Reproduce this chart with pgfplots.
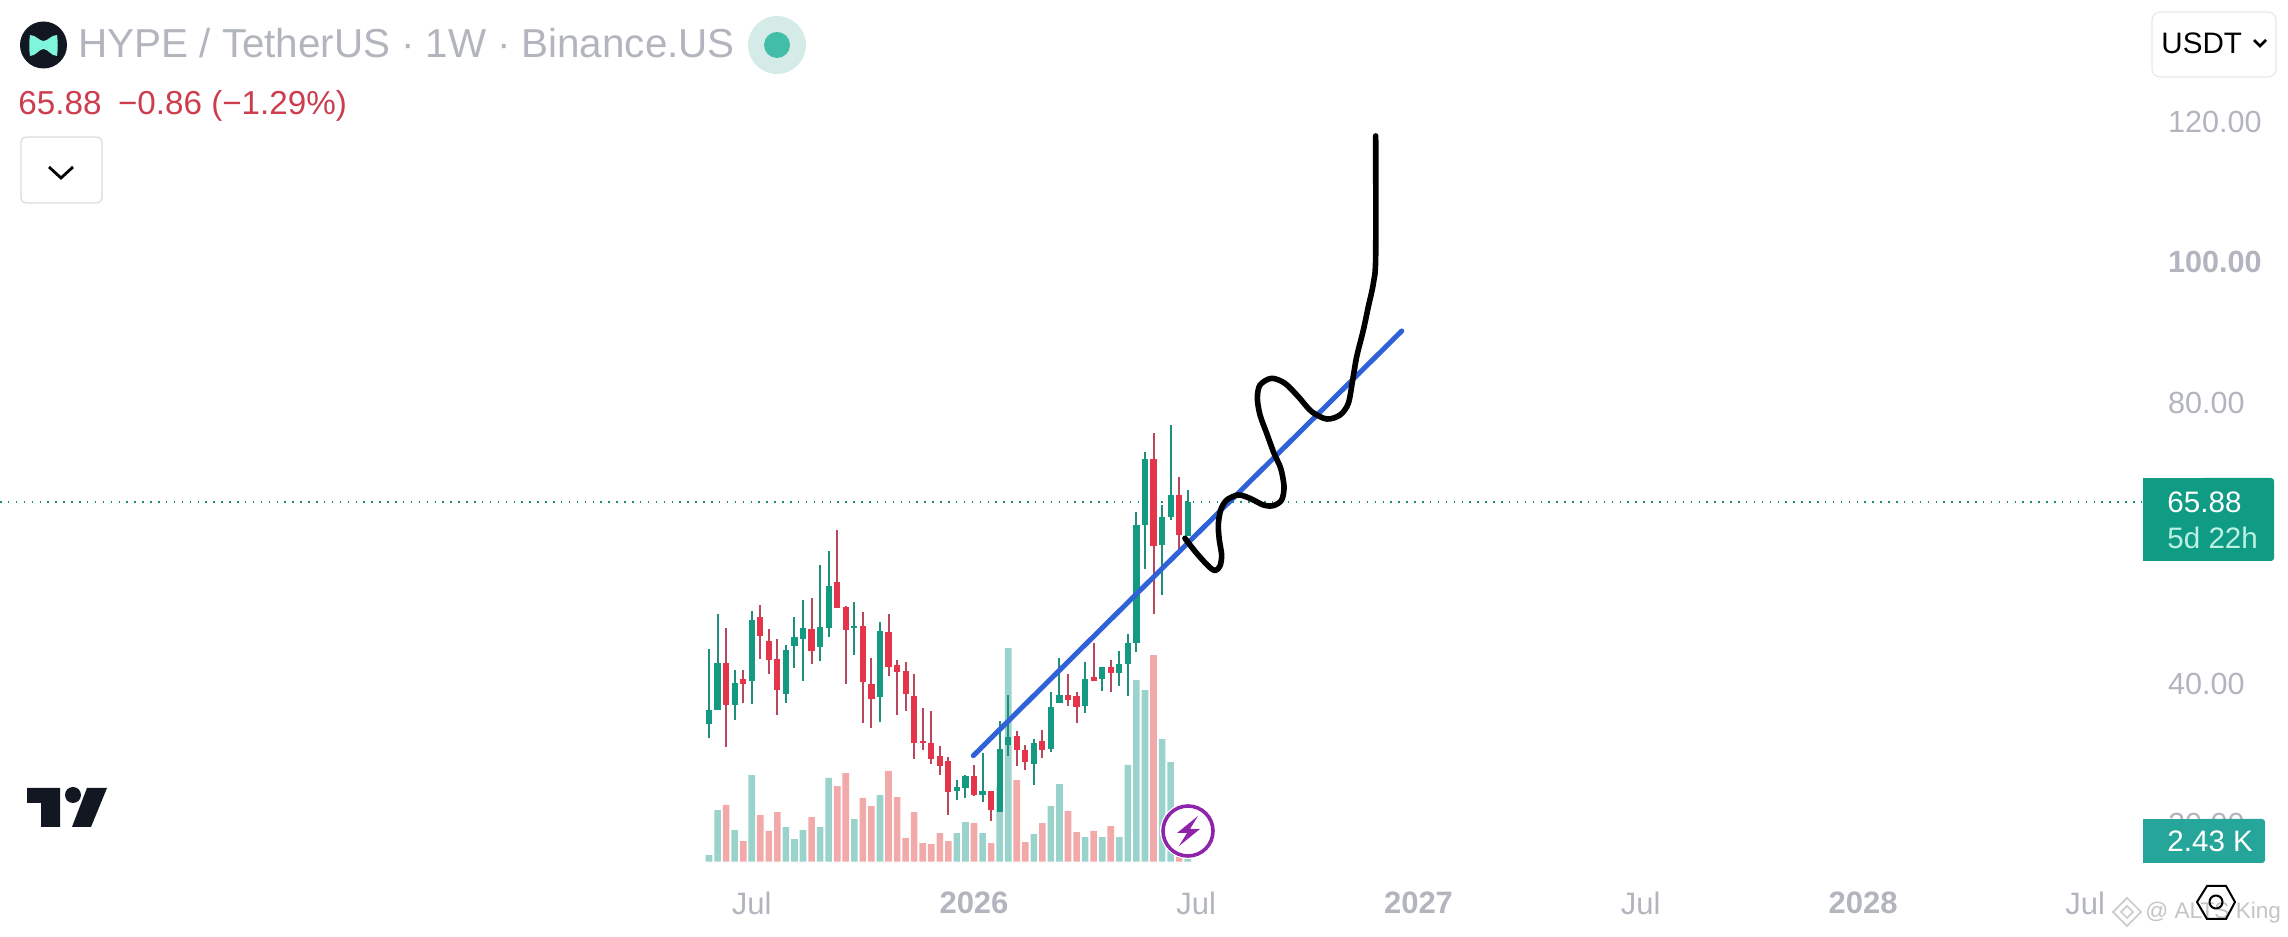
\documentclass[border=0pt]{standalone}
\usepackage{fontspec}
\setmainfont{Liberation Sans}
\usepackage{pgfplots}
\usepackage{pgfplotstable}
\pgfplotsset{compat=1.18}
\definecolor{tvgrey}{HTML}{B2B5BE}
\definecolor{gbody}{HTML}{149A80}
\definecolor{gwick}{HTML}{1F8F7C}
\definecolor{rbody}{HTML}{E5354B}
\definecolor{rwick}{HTML}{B8485C}
\definecolor{gvol}{HTML}{9AD3CC}
\definecolor{rvol}{HTML}{F2A9A9}
\definecolor{trend}{HTML}{2F62D9}
\definecolor{pillg}{HTML}{0F9B84}
\definecolor{pillv}{HTML}{26A69A}
\definecolor{purp}{HTML}{8E24AA}
\definecolor{mint}{HTML}{7FF5DC}
\definecolor{pricered}{HTML}{CC3D4E}
\definecolor{tvdark}{HTML}{131722}
\definecolor{statout}{HTML}{D5EBE8}
\definecolor{statin}{HTML}{42BDA8}
\definecolor{btnone}{HTML}{DADADA}
\definecolor{btntwo}{HTML}{E8E8E8}
\definecolor{txtmint}{HTML}{B9F2E2}
\definecolor{wmtext}{HTML}{C4C4C4}
\definecolor{wmlogo}{HTML}{D0D0D0}
% i hi top bot lo
\pgfplotstableread{
i hi top bot lo
0 44.87 36.18 34.19 32.29
1 49.86 42.88 36.28 36.28
3 41.88 40.08 36.94 34.85
5 50.28 49.00 40.36 37.13
9 45.44 44.78 38.46 37.27
10 49.43 46.63 45.35 42.26
11 51.85 47.91 46.39 40.41
13 56.84 48.01 45.25 43.26
14 58.83 53.85 47.96 46.68
17 51.57 48.20 47.91 44.11
20 48.72 47.48 38.13 34.57
29 26.33 25.24 24.76 23.43
30 27.04 26.81 25.14 23.72
32 30.13 24.67 24.19 23.15
34 34.74 30.75 21.73 21.73
35 38.44 32.36 31.22 29.65
38 32.17 31.51 28.56 25.57
40 38.77 36.73 30.70 30.22
41 43.71 38.34 37.25 37.25
44 43.14 40.72 36.78 35.83
46 42.43 42.43 40.67 38.91
48 44.71 42.85 41.52 39.62
49 47.13 45.84 42.81 38.20
50 64.50 62.65 45.80 44.52
51 73.05 72.05 62.60 56.34
53 65.50 63.79 59.71 52.68
54 76.80 66.93 63.74 63.32
56 67.64 65.88 61.09 61.09
}\gcandles
\pgfplotstableread{
i hi top bot lo
2 47.91 42.88 36.94 31.01
4 41.93 40.65 39.98 37.27
6 51.14 49.43 46.82 43.54
7 47.72 46.06 43.40 41.36
8 46.30 43.49 39.13 35.57
12 52.18 47.72 44.68 42.73
15 61.87 54.46 50.81 50.81
16 51.00 50.90 47.67 39.93
18 50.14 48.15 40.22 34.43
19 43.59 39.93 37.84 33.67
21 49.86 47.34 42.40 41.07
22 43.40 42.64 41.64 35.57
23 43.02 41.74 38.46 36.14
24 41.41 38.22 31.58 29.30
25 36.47 31.86 31.58 30.58
26 36.04 31.48 29.30 28.59
27 31.06 29.63 28.30 27.02
28 29.49 28.92 24.60 21.32
31 28.37 26.81 24.19 23.96
33 24.67 24.67 21.96 20.40
36 33.31 32.50 30.51 28.23
37 31.32 30.60 28.80 27.66
39 33.45 31.79 30.51 29.37
42 41.43 38.34 37.68 36.78
43 38.77 38.20 36.68 34.40
45 45.75 40.91 40.43 40.43
47 43.42 42.33 41.52 38.77
52 75.66 72.05 59.61 49.93
55 69.49 66.93 61.23 58.85
}\rcandles
\pgfplotstableread{
i v
0 0.81
1 6.28
3 3.85
5 10.53
9 4.21
10 2.75
11 3.85
13 4.21
14 10.17
17 5.18
20 8.10
29 3.48
30 4.82
32 3.48
34 9.11
35 25.96
38 3.36
40 6.76
41 9.44
44 3.00
46 3.00
48 3.00
49 11.75
50 22.07
51 20.86
53 14.90
54 12.11
56 2.43
}\gvolume
\pgfplotstableread{
i v
2 6.89
4 2.51
6 5.67
7 3.73
8 6.03
12 5.43
15 9.19
16 10.77
18 7.74
19 6.76
21 11.02
22 7.86
23 2.88
24 6.03
25 2.27
26 2.15
27 3.48
28 2.51
31 4.70
33 2.27
36 9.92
37 2.39
39 4.70
42 6.16
43 3.60
45 3.73
47 4.33
52 25.11
55 4.05
}\rvolume
\newcommand{\fs}[1]{\fontsize{#1}{#1}\selectfont}
\begin{document}
\begin{tikzpicture}
\useasboundingbox (0,0) rectangle (1144pt,468.5pt);
% volume
\begin{axis}[at={(0,0)},anchor=south west,width=1144pt,height=468.5pt,scale only axis,hide axis,
  xmin=-82.94,xmax=184.72,ymin=-9.149,ymax=104.70]
\addplot[ybar,bar shift=0pt,bar width=3.3pt,draw=none,fill=gvol] table[x=i,y=v]{\gvolume};
\addplot[ybar,bar shift=0pt,bar width=3.3pt,draw=none,fill=rvol] table[x=i,y=v]{\rvolume};
\end{axis}
% price
\begin{axis}[at={(0,0)},anchor=south west,width=1144pt,height=468.5pt,scale only axis,
  xmin=-82.94,xmax=184.72,ymin=3.903,ymax=137.379,
  axis line style={draw=none},major tick length=0pt,
  ytick pos=right,xtick pos=bottom,
  xtick={5,31,57,83,109,135,161},
  xticklabels={Jul,\textbf{2026},Jul,\textbf{2027},Jul,\textbf{2028},Jul},
  ytick={20,40,80,100,120},
  yticklabels={20.00,40.00,80.00,\textbf{100.00},120.00},
  xticklabel style={font=\fs{15.5},text=tvgrey,anchor=center,yshift=17pt},
  yticklabel style={font=\fs{15.3},text=tvgrey,anchor=west,xshift=-63.5pt}]
\addplot[gwick,line width=0.7pt,dash pattern=on 0.75pt off 3.2pt] coordinates {(-82.94,65.88) (167.76,65.88)};
\addplot[draw=none,mark=none,error bars/.cd,y dir=both,y explicit,error mark=none,error bar style={line width=1pt,draw=gwick,solid}]
  table[x=i,y=bot,y error plus expr=\thisrow{hi}-\thisrow{bot},y error minus expr=\thisrow{bot}-\thisrow{lo}]{\gcandles};
\addplot[draw=none,mark=none,error bars/.cd,y dir=both,y explicit,error mark=none,error bar style={line width=1pt,draw=rwick,solid}]
  table[x=i,y=bot,y error plus expr=\thisrow{hi}-\thisrow{bot},y error minus expr=\thisrow{bot}-\thisrow{lo}]{\rcandles};
\addplot[draw=none,mark=none,error bars/.cd,y dir=plus,y explicit,error mark=none,error bar style={line width=3.1pt,draw=gbody,solid}]
  table[x=i,y=bot,y error plus expr=\thisrow{top}-\thisrow{bot},y error minus expr=0]{\gcandles};
\addplot[draw=none,mark=none,error bars/.cd,y dir=plus,y explicit,error mark=none,error bar style={line width=3.1pt,draw=rbody,solid}]
  table[x=i,y=bot,y error plus expr=\thisrow{top}-\thisrow{bot},y error minus expr=0]{\rcandles};
\addplot[trend,line width=2.5pt,line cap=round] coordinates {(30.92,29.73) (81.04,90.23)};
\addplot[black,line width=2.8pt,line cap=round,line join=round,smooth,tension=0.5] coordinates {
(55.68,60.69)(57.05,58.56)(58.41,56.75)(59.19,56.09)(59.78,56.75)(59.97,58.32)(59.70,60.46)(59.58,62.59)
(59.86,64.73)(60.56,66.15)(61.92,66.87)(63.29,66.39)(64.85,65.44)(66.02,65.35)(66.99,66.15)(67.27,68.05)
(66.88,70.67)(66.10,72.80)(65.24,75.65)(64.46,78.26)(64.15,80.64)(64.46,82.54)(65.82,83.49)(67.38,82.77)
(68.94,80.87)(70.50,78.74)(72.26,77.69)(73.82,78.26)(74.79,79.92)(75.30,83.25)(75.77,86.57)(76.55,90.37)
(77.13,93.69)(77.72,97.02)(77.99,100.82)(77.99,118.01)};
\end{axis}
% interface furniture, in pixels of the reference
\begin{scope}[shift={(0,468.5pt)},x=0.5pt,y=-0.5pt]
\fill[tvdark] (43.5,45) circle (11.75pt);
\fill[mint] (30,35) .. controls (36,35) and (39,41) .. (43.5,41) .. controls (48,41) and (51,35) .. (57,35)
  .. controls (58,42) and (58,49) .. (57,56) .. controls (51,56) and (48,49) .. (43.5,49) .. controls (39,49) and (36,56) .. (30,56)
  .. controls (29,49) and (29,42) .. (30,35) -- cycle;
\node[anchor=west,inner sep=0,text=tvgrey,font=\fs{20.2}] at (78,43.5) {HYPE / TetherUS\hspace{0.27em}·\hspace{0.27em}1W\hspace{0.27em}·\hspace{0.27em}Binance.US};
\fill[statout] (777,45) circle (14.5pt);
\fill[statin] (777,45) circle (6.5pt);
\node[anchor=west,inner sep=0,text=pricered,font=\fs{16.6}] at (18,105.5) {65.88\hspace{0.5em}−0.86 (−1.29\%)};
\draw[btnone,line width=0.6pt,rounded corners=2.5pt] (21,137) rectangle (102,203);
\draw[black,line width=1.4pt] (49,167) -- (61,178) -- (73,167);
\draw[btntwo,line width=0.6pt,rounded corners=4pt] (2152,12) rectangle (2276,77);
\node[anchor=west,inner sep=0,text=black,font=\fs{14.8}] at (2161,43) {USDT};
\draw[black,line width=1.3pt] (2254,40) -- (2260,46) -- (2266,40);
% price pill
\fill[pillg,rounded corners=1.5pt] (2200,478) -- (2274,478) -- (2274,561) -- (2200,561) -- cycle;
\fill[pillg] (2143,478) rectangle (2210,561);
\node[anchor=west,inner sep=0,text=white,font=\fs{14.8}] at (2167,502) {65.88};
\node[anchor=west,inner sep=0,text=txtmint,font=\fs{14.8}] at (2167,538) {5d 22h};
% volume pill
\fill[pillv,rounded corners=1.5pt] (2200,819) -- (2265,819) -- (2265,863) -- (2200,863) -- cycle;
\fill[pillv] (2143,819) rectangle (2210,863);
\node[anchor=west,inner sep=0,text=white,font=\fs{14.8}] at (2167,841) {2.43 K};
% TV logo
\fill[tvdark] (27,788) -- (60,788) -- (60,827) -- (41,827) -- (41,803) -- (27,803) -- cycle;
\fill[tvdark] (73,795) circle (4pt);
\fill[tvdark] (87,788) -- (107,788) -- (91,827) -- (72,827) -- cycle;
% lightning badge
\fill[white] (1188,831) circle (14pt);
\draw[purp,line width=1.8pt] (1188,831) circle (12.5pt);
\fill[purp] (1198,816) -- (1177,833) -- (1187,833) -- (1179,846) -- (1200,829) -- (1190,829) -- cycle;
% watermark
\node[anchor=west,inner sep=0,text=wmtext,font=\fs{11.3}] at (2145,913) {@ ALTS King};
\draw[wmlogo,line width=0.9pt] (2127,898) -- (2141,912) -- (2127,926) -- (2113,912) -- cycle;
\draw[wmlogo,line width=0.9pt] (2127,906) -- (2133,912) -- (2127,918) -- (2121,912) -- cycle;
% hexagon
\draw[black,line width=1pt] (2197,902) -- (2207,886) -- (2226,886) -- (2235,902) -- (2226,919) -- (2207,919) -- cycle;
\draw[black,line width=1pt] (2216,902) circle (3.25pt);
\end{scope}
\end{tikzpicture}
\end{document}
